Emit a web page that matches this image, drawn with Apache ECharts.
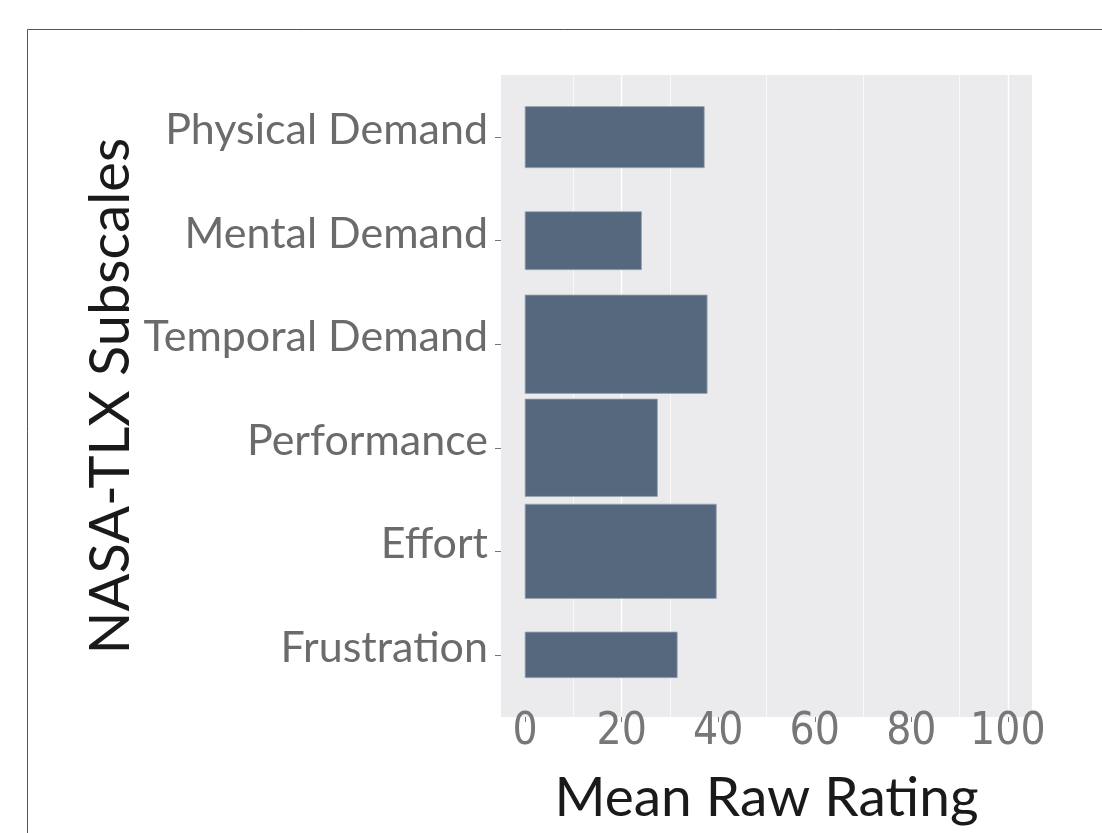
<!DOCTYPE html>
<html>
<head>
<meta charset="utf-8">
<title>NASA-TLX Subscales</title>
<script src="https://cdn.jsdelivr.net/npm/echarts@6/dist/echarts.min.js"></script>
<style>
  html, body { margin: 0; padding: 0; background: #fff; }
  #chart { width: 1102px; height: 833px; }
</style>
</head>
<body>
<div id="chart"></div>
<script>
// ── Data ──
const subscales = ['Physical Demand', 'Mental Demand', 'Temporal Demand', 'Performance', 'Effort', 'Frustration'];
const meanRatings = [37.1, 24.1, 37.7, 27.4, 39.6, 31.5];
// bar thickness as a fraction of one category step
const barThickness = [0.59, 0.56, 0.95, 0.94, 0.91, 0.44];
const xTicks = [0, 20, 40, 60, 80, 100];

const chart = echarts.init(document.getElementById('chart'));

const textFont = 'Lato, "Noto Sans", sans-serif';
const digitFont = '"Liberation Sans Narrow", "DejaVu Sans Condensed", Lato, sans-serif';
const clear = 'rgba(0,0,0,0)';

// panel: 501..1032 x 75..717; categories padded by 0.6 step each side
const panel = { left: 501, right: 70, top: 75, bottom: 116 };
const step = (833 - panel.top - panel.bottom) / (subscales.length - 1 + 1.2);

chart.setOption({
  backgroundColor: '#fff',
  animation: false,
  graphic: [
    { type: 'line', shape: { x1: 27.5, y1: 29.5, x2: 1102, y2: 29.5 }, style: { stroke: '#555', lineWidth: 1 } },
    { type: 'line', shape: { x1: 27.5, y1: 29.5, x2: 27.5, y2: 833 }, style: { stroke: '#555', lineWidth: 1 } },
  ],
  grid: [
    { ...panel, show: true, backgroundColor: '#ebebed', borderWidth: 0 },
    { left: panel.left, right: panel.right,
      top: panel.top + step * 0.1, bottom: panel.bottom + step * 0.1, show: false },
  ],
  xAxis: [
    {
      gridIndex: 0, type: 'value', min: -5, max: 105, interval: 5,
      name: 'Mean Raw Rating', nameLocation: 'middle', nameGap: 54,
      nameTextStyle: { fontFamily: textFont, fontSize: 55, color: '#1a1a1a' },
      axisLine: { show: false, onZero: false },
      axisTick: { show: true, customValues: xTicks, length: 5, lineStyle: { color: '#777', width: 1 } },
      axisLabel: {
        customValues: xTicks, margin: -6,
        fontFamily: digitFont, fontSize: 44, color: '#777',
        formatter: v => (v >= 0 && v % 20 === 0) ? String(v) : '',
      },
      // ticks every 5 starting at -5: index 1 mod 4 = multiples of 20
      splitLine: { show: true, lineStyle: { color: [clear, '#fff', clear, clear], width: 1.4 } },
    },
    {
      gridIndex: 0, type: 'value', min: -5, max: 105, interval: 5, position: 'top',
      axisLine: { show: false, onZero: false }, axisTick: { show: false }, axisLabel: { show: false },
      splitLine: { show: true, lineStyle: { color: [clear, clear, clear, '#fff'], width: 0.7 } },
    },
    {
      gridIndex: 1, type: 'value', min: -5, max: 105, show: false,
    },
  ],
  yAxis: [
    { gridIndex: 0, type: 'value', show: false },
    {
      gridIndex: 1, type: 'category', data: subscales, inverse: true,
      name: 'NASA-TLX Subscales', nameLocation: 'middle', nameGap: 362,
      nameTextStyle: { fontFamily: textFont, fontSize: 56, color: '#1a1a1a' },
      axisLine: { show: false, onZero: false },
      axisTick: { show: true, alignWithLabel: true, length: 6, lineStyle: { color: '#777' } },
      axisLabel: {
        fontFamily: textFont, fontSize: 43, color: '#6b6b6b', margin: 13,
        verticalAlign: 'bottom', lineHeight: 14,
      },
    },
  ],
  series: [{
    type: 'custom',
    xAxisIndex: 2,
    yAxisIndex: 1,
    encode: { x: 0, y: 1 },
    data: subscales.map((s, i) => [meanRatings[i], i, barThickness[i]]),
    renderItem: (params, api) => {
      const start = api.coord([0, api.value(1)]);
      const end = api.coord([api.value(0), api.value(1)]);
      const h = api.size([0, 1])[1] * api.value(2);
      return {
        type: 'rect',
        shape: { x: start[0], y: start[1] - h / 2, width: end[0] - start[0], height: h },
        style: { fill: '#56687e', stroke: '#9aa5b3', lineWidth: 0.8 },
      };
    },
  }],
});
</script>
</body>
</html>
